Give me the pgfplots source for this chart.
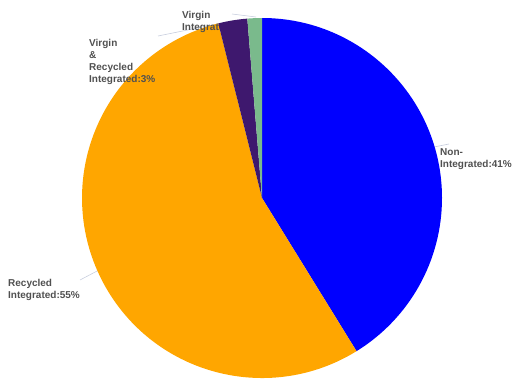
\documentclass[border=0pt]{standalone}
\usepackage{pgfplots}
\usepackage{pgfplotstable}
\pgfplotsset{compat=1.18}
\usepackage{fontspec}
\setmainfont{Liberation Sans}
\definecolor{piblue}{RGB}{0,0,255}
\definecolor{piorange}{RGB}{255,166,0}
\definecolor{pipurple}{RGB}{62,24,110}
\definecolor{pigreen}{RGB}{122,186,140}
\definecolor{labgray}{RGB}{80,80,80}
\definecolor{leader}{RGB}{200,206,222}
\pgfplotstableread{
value color
41.2 piblue
54.9 piorange
2.6 pipurple
1.3 pigreen
}\piedata
\newcommand\drawslices[1]{%
  \pgfplotsforeachungrouped \i in {#1}{%
    \pgfplotstablegetelem{\i}{value}\of\piedata
    \pgfmathsetmacro\endang{\cum-3.6*\pgfplotsretval}%
    \pgfplotstablegetelem{\i}{color}\of\piedata
    \let\col\pgfplotsretval
    \edef\temp{\noexpand\fill[\col] (axis cs:262,180) -- ++(\cum:180pt) arc[start angle=\cum, end angle=\endang, radius=180pt] -- cycle;}%
    \temp
    \global\let\cum\endang
  }%
}
\begin{document}
\begin{tikzpicture}
\useasboundingbox (0,0) rectangle (524pt,378pt);
\begin{axis}[
  width=524pt, height=378pt, scale only axis,
  xmin=0, xmax=524, ymin=0, ymax=378,
  hide axis, clip=true,
]
% leader lines
\draw[leader, line width=0.6pt] (axis cs:158,342) -- (axis cs:232,357);
\draw[leader, line width=0.6pt] (axis cs:232,364) -- (axis cs:256,361);
\draw[leader, line width=0.6pt] (axis cs:434,231) -- (axis cs:449,234);
\draw[leader, line width=0.6pt] (axis cs:99,108) -- (axis cs:80,98);
% pie slices from the table, clockwise from 12 o'clock
\def\cum{90}
\drawslices{0,1}
\node[anchor=north west, inner sep=0pt, align=left, text=labgray,
  font=\fontsize{10}{12}\selectfont\bfseries] at (axis cs:182,366.5) {Virgin\\Integrated:1\%};
\drawslices{2,3}
% labels on top
\node[anchor=north west, inner sep=0pt, align=left, text=labgray,
  font=\fontsize{10}{12}\selectfont\bfseries] at (axis cs:440,230) {Non-\\Integrated:41\%};
\node[anchor=north west, inner sep=0pt, align=left, text=labgray,
  font=\fontsize{10}{12}\selectfont\bfseries] at (axis cs:8,99) {Recycled\\Integrated:55\%};
\node[anchor=north west, inner sep=0pt, align=left, text=labgray,
  font=\fontsize{10}{12}\selectfont\bfseries] at (axis cs:89,338.5) {Virgin\\\&\\Recycled\\Integrated:3\%};
\end{axis}
\end{tikzpicture}
\end{document}
